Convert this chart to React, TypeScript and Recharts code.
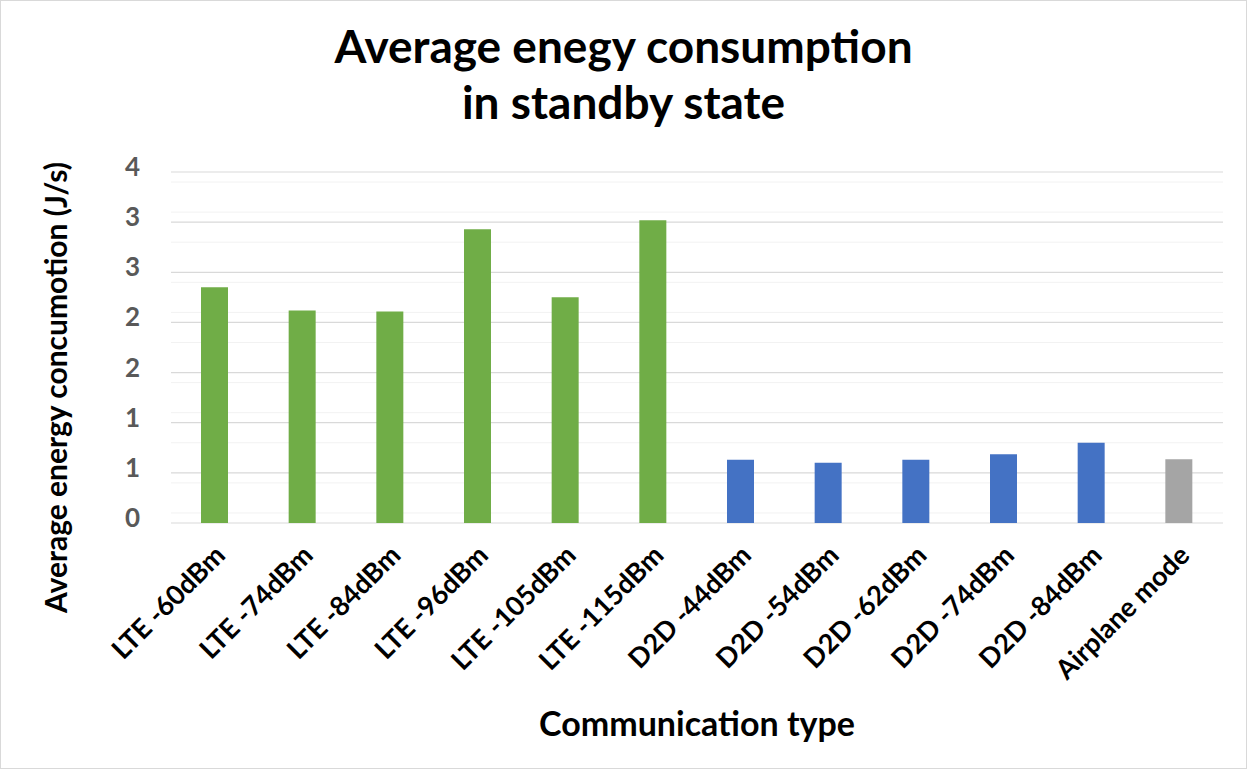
import { BarChart, Bar, XAxis, YAxis, CartesianGrid, Cell } from 'recharts';

const categories = [
  'LTE -60dBm',
  'LTE -74dBm',
  'LTE -84dBm',
  'LTE -96dBm',
  'LTE -105dBm',
  'LTE -115dBm',
  'D2D -44dBm',
  'D2D -54dBm',
  'D2D -62dBm',
  'D2D -74dBm',
  'D2D -84dBm',
  'Airplane mode',
];
const energy = [2.35, 2.12, 2.11, 2.93, 2.25, 3.02, 0.63, 0.6, 0.63, 0.685, 0.8, 0.635];
const kinds = ['LTE', 'LTE', 'LTE', 'LTE', 'LTE', 'LTE', 'D2D', 'D2D', 'D2D', 'D2D', 'D2D', 'Off'];
const yTicks = [0, 0.5, 1, 1.5, 2, 2.5, 3, 3.5];

const kindColor: Record<string, string> = { LTE: '#70AD47', D2D: '#4472C4', Off: '#A5A5A5' };

const data = categories.map((name, i) => ({ name, value: energy[i], kind: kinds[i] }));

// light lines every 0.1 between the labelled ones
const minorLines: number[] = [];
for (let i = 0; i < yTicks.length - 1; i++) {
  for (let k = 1; k < 5; k++) minorLines.push(+(yTicks[i] + (k * 0.5) / 5).toFixed(2));
}

const FONT = 'Lato, "Open Sans", sans-serif';

const CategoryTick = ({ x, y, payload }: any) => (
  <text
    x={x + 12}
    y={y + 26}
    transform={`rotate(-45, ${x + 12}, ${y + 26})`}
    textAnchor="end"
    fontFamily={FONT}
    fontWeight={700}
    fontSize={27}
    fill="#000"
  >
    {payload.value}
  </text>
);

const ValueTick = ({ x, y, payload }: any) => (
  <text x={x} y={y} dy={4} textAnchor="end" fontFamily={FONT} fontWeight={700} fontSize={26} fill="#595959">
    {Math.round(payload.value)}
  </text>
);

export default function App() {
  return (
    <div style={{ position: 'relative', width: 1247, height: 769, background: '#fff' }}>
      <style>{'body{margin:0}'}</style>
      <div
        style={{
          position: 'absolute',
          inset: 0,
          border: '1px solid #d9d9d9',
          boxSizing: 'border-box',
          pointerEvents: 'none',
        }}
      />
      <div
        style={{
          position: 'absolute',
          top: 18,
          left: 0,
          width: 1247,
          textAlign: 'center',
          fontFamily: FONT,
          fontWeight: 700,
          fontSize: 46,
          lineHeight: '56px',
          color: '#000',
        }}
      >
        Average enegy consumption
        <br />
        in standby state
      </div>
      <BarChart
        width={1247}
        height={769}
        data={data}
        margin={{ top: 172, right: 24, bottom: 0, left: 0 }}
        barSize={27}
      >
        <CartesianGrid vertical={false} horizontalValues={minorLines} stroke="#f2f2f2" strokeWidth={1} />
        <CartesianGrid vertical={false} horizontalValues={yTicks} stroke="#d9d9d9" strokeWidth={1.2} />
        <XAxis
          dataKey="name"
          interval={0}
          height={246}
          axisLine={false}
          tickLine={false}
          tick={<CategoryTick />}
          label={{
            value: 'Communication type',
            position: 'insideBottom',
            offset: 33,
            style: { fontFamily: FONT, fontWeight: 700, fontSize: 34, fill: '#000' },
          }}
        />
        <YAxis
          width={171}
          domain={[0, 3.5]}
          ticks={yTicks}
          axisLine={false}
          tickLine={false}
          tickMargin={25}
          tick={<ValueTick />}
          label={{
            content: ({ viewBox }: any) => {
              const cx = 67;
              const cy = viewBox.y + viewBox.height / 2 + 40;
              return (
                <text
                  x={cx}
                  y={cy}
                  transform={`rotate(-90, ${cx}, ${cy})`}
                  textAnchor="middle"
                  fontFamily={FONT}
                  fontWeight={700}
                  fontSize={30}
                  fill="#000"
                >
                  Average energy concumotion (J/s)
                </text>
              );
            },
          }}
        />
        <Bar dataKey="value" isAnimationActive={false}>
          {data.map((d, i) => (
            <Cell key={`bar-${i}`} fill={kindColor[d.kind]} />
          ))}
        </Bar>
      </BarChart>
    </div>
  );
}
